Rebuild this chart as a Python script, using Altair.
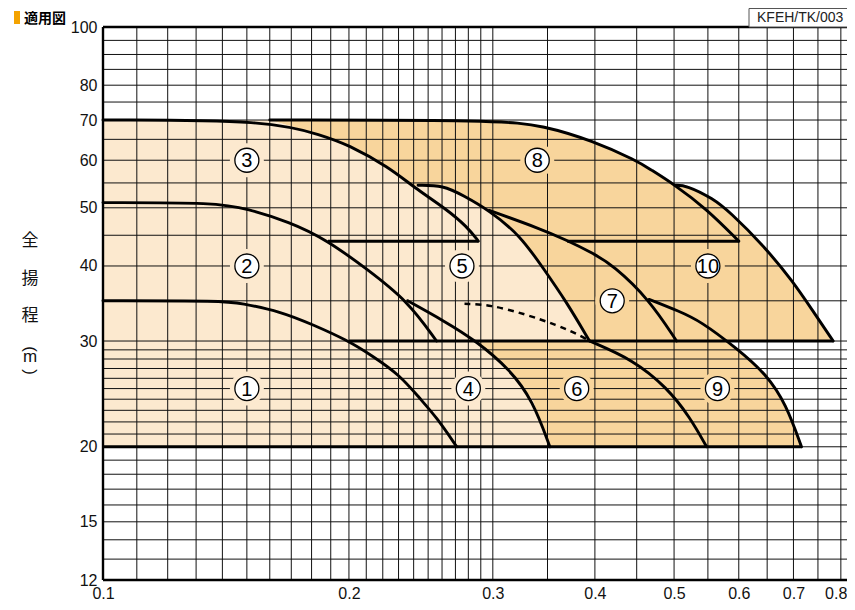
import altair as alt
import pandas as pd

LIGHT = "#FCE9CF"
DARK = "#F8D59C"
ORANGE = "#F4A300"

# ---------------- axes / grid ----------------
Q_MIN, Q_MAX = 0.1, 0.814
H_MIN, H_MAX = 12, 100
x_label_values = [0.1, 0.2, 0.3, 0.4, 0.5, 0.6, 0.7, 0.8]
y_label_values = [12, 15, 20, 30, 40, 50, 60, 70, 80, 100]
x_grid_values = [0.11, 0.12, 0.13, 0.14, 0.15, 0.16, 0.17, 0.18, 0.19, 0.2,
                 0.21, 0.22, 0.23, 0.24, 0.25, 0.26, 0.27, 0.28, 0.29, 0.3,
                 0.35, 0.4, 0.45, 0.5, 0.55, 0.6, 0.65, 0.7, 0.75, 0.8]
y_grid_values = [13, 14, 15, 16, 17, 18, 19, 20, 21, 22, 23, 24, 25, 26, 27, 28, 29, 30,
                 35, 40, 45, 50, 55, 60, 65, 70, 75, 80, 85, 90, 95]
x_border_values = [0.1]
y_border_values = [12, 100]

# ---------------- performance curves (flow m3/min, head m) ----------------
c1_q = [0.1, 0.141, 0.147, 0.165, 0.181, 0.199, 0.214, 0.231, 0.244, 0.256, 0.271]
c1_h = [35, 35, 34.7, 33.6, 31.9, 30.1, 28.3, 26.3, 24.1, 22.4, 20]
c2_q = [0.1, 0.138, 0.150, 0.169, 0.188, 0.210, 0.236, 0.256]
c2_h = [51, 51, 49.8, 47.4, 44.2, 39.6, 35, 30]
c3_q = [0.1, 0.16, 0.186, 0.199, 0.224, 0.240, 0.263, 0.279, 0.288]
c3_h = [70, 70, 65.9, 63.8, 58.4, 54.1, 49.8, 46.5, 44]
c4_q = [0.236, 0.2605, 0.2865, 0.3147, 0.3357, 0.3523]
c4_h = [35, 32.5, 30, 26.9, 23.9, 20]
c5_q = [0.243, 0.261, 0.276, 0.297, 0.324, 0.346, 0.369, 0.394]
c5_h = [54.5, 54.5, 52.4, 49.5, 45, 39.6, 34.9, 30]
c6_dash_q = [0.277, 0.2974, 0.33, 0.359, 0.3833, 0.394]
c6_dash_h = [34.6, 34.5, 33.2, 31.9, 30.7, 30]
c6_q = [0.394, 0.446, 0.49, 0.523, 0.548]
c6_h = [30, 27.9, 25.1, 22.4, 20]
c7_q = [0.297, 0.342, 0.369, 0.398, 0.421, 0.466, 0.5035]
c7_h = [49.5, 46.2, 44.2, 42, 40.1, 35.2, 30]
c8_q = [0.16, 0.305, 0.346, 0.398, 0.45, 0.467, 0.499, 0.548, 0.6]
c8_h = [70, 70, 68.5, 64.6, 59.9, 58, 54.8, 49.8, 44]
c9_q = [0.466, 0.508, 0.538, 0.596, 0.649, 0.686, 0.716]
c9_h = [35.2, 33.6, 32.4, 29.2, 26.4, 23.5, 20]
c9_q_at_30 = 0.582
c10_q = [0.501, 0.518, 0.558, 0.585, 0.643, 0.699, 0.74, 0.783]
c10_h = [54.5, 54.5, 51.8, 49.2, 43.3, 37.7, 33.6, 30]
# horizontal limit lines
h20_q, h20_h = [0.1, 0.716], [20, 20]
h30_q, h30_h = [0.2, 0.783], [30, 30]
h44a_q, h44a_h = [0.1885, 0.288], [44, 44]
h44b_q, h44b_h = [0.37, 0.6], [44, 44]

# ---------------- region labels ----------------
label_text = ["1", "2", "3", "4", "5", "6", "7", "8", "9", "10"]
label_q = [0.15, 0.15, 0.15, 0.28, 0.275, 0.38, 0.42, 0.34, 0.565, 0.55]
label_h = [25, 40, 60, 25, 40, 25, 35, 60, 25, 40]
label_zone = ["light"] * 5 + ["dark"] * 5


def table(name, qs, hs):
    return pd.DataFrame({"seg": name, "i": list(range(len(qs))), "q": qs, "h": hs})


def curve_table(name, qs, hs):
    # end points repeated so that the smoothing spline keeps them
    q = [qs[0], qs[0]] + list(qs) + [qs[-1], qs[-1]]
    h = [hs[0], hs[0]] + list(hs) + [hs[-1], hs[-1]]
    return table(name, q, h)


# regions built from the curves
dark_q = (c8_q[:7] + c10_q + [c9_q_at_30] + c9_q[3:] + c4_q[2:][::-1]
          + c5_q[::-1] + c3_q[1:6][::-1])
dark_h = (c8_h[:7] + c10_h + [30] + c9_h[3:] + c4_h[2:][::-1]
          + c5_h[::-1] + c3_h[1:6][::-1])
light_q = c3_q[:6] + c5_q + c4_q[2:] + [0.1]
light_h = c3_h[:6] + c5_h + c4_h[2:] + [20]
regions = pd.concat([table("dark", dark_q, dark_h), table("light", light_q, light_h)])

solid = pd.concat([
    curve_table("c1", c1_q, c1_h), curve_table("c2", c2_q, c2_h), curve_table("c3", c3_q, c3_h),
    curve_table("c4", c4_q, c4_h), curve_table("c5", c5_q, c5_h), curve_table("c6", c6_q, c6_h),
    curve_table("c7", c7_q, c7_h), curve_table("c8", c8_q, c8_h), curve_table("c9", c9_q, c9_h),
    curve_table("c10", c10_q, c10_h),
])
limits = pd.concat([
    table("h20", h20_q, h20_h), table("h30", h30_q, h30_h),
    table("h44a", h44a_q, h44a_h), table("h44b", h44b_q, h44b_h),
])
dashed = curve_table("c6d", c6_dash_q, c6_dash_h)
labels = pd.DataFrame({"t": label_text, "q": label_q, "h": label_h, "zone": label_zone})

xs = alt.Scale(type="log", domain=[Q_MIN, Q_MAX], nice=False)
ys = alt.Scale(type="log", domain=[H_MIN, H_MAX], nice=False)
x_axis = alt.Axis(
    values=x_label_values, format=".1f", title=None, labelPadding=5,
    labelOverlap=False, labelFlush=False,
    labelAlign={"condition": {"test": "datum.value > 0.75", "value": "right"}, "value": "center"},
    labelOffset={"condition": {"test": "datum.value > 0.75", "value": 6}, "value": 0},
)
y_axis = alt.Axis(values=y_label_values, format="d", title=None, labelPadding=6,
                  labelOverlap=False, labelFlush=False)
X = alt.X("q:Q", scale=xs, axis=x_axis)
Y = alt.Y("h:Q", scale=ys, axis=y_axis)
zone_color = alt.Color("zone:N", scale=alt.Scale(domain=["dark", "light"], range=[DARK, LIGHT]), legend=None)

fills = alt.Chart(regions).mark_line(filled=True, interpolate="linear", strokeWidth=0).encode(
    x=X, y=Y, detail="seg:N", order="i:Q",
    color=alt.Color("seg:N", scale=alt.Scale(domain=["dark", "light"], range=[DARK, LIGHT]), legend=None),
)

vgrid = alt.Chart(pd.DataFrame({"q": x_grid_values})).mark_rule(color="#111", strokeWidth=1).encode(x=X)
hgrid = alt.Chart(pd.DataFrame({"h": y_grid_values})).mark_rule(color="#111", strokeWidth=1).encode(y=Y)
vborder = alt.Chart(pd.DataFrame({"q": x_border_values})).mark_rule(color="black", strokeWidth=2.4).encode(x=X)
hborder = alt.Chart(pd.DataFrame({"h": y_border_values})).mark_rule(color="black", strokeWidth=2.4).encode(y=Y)

halo = alt.Chart(labels).mark_circle(size=1150, opacity=1).encode(x=X, y=Y, color=zone_color)

curve_lines = alt.Chart(solid).mark_line(color="black", strokeWidth=2.9, interpolate="basis",
                                         strokeJoin="round", strokeCap="round").encode(
    x=X, y=Y, detail="seg:N", order="i:Q")
limit_lines = alt.Chart(limits).mark_line(color="black", strokeWidth=3, strokeCap="butt").encode(
    x=X, y=Y, detail="seg:N", order="i:Q")
dash_line = alt.Chart(dashed).mark_line(color="black", strokeWidth=2.5, strokeDash=[6, 5],
                                        interpolate="basis").encode(x=X, y=Y, order="i:Q")

discs = alt.Chart(labels).mark_point(shape="circle", filled=True, fill="white", stroke="black",
                                     strokeWidth=1.3, size=576, opacity=1).encode(x=X, y=Y)
digits = alt.Chart(labels).mark_text(fontSize=20, font="Liberation Sans Narrow, Liberation Sans, Arial",
                                     color="black", baseline="middle", align="center", dy=1).encode(
    x=X, y=Y, text="t:N")

# ---------------- annotations ----------------
ann = pd.DataFrame({"t": ["KFEH/TK/003"]})
code_box = alt.Chart(ann).mark_rect(fill="white", stroke="#555", strokeWidth=1).encode(
    x=alt.value(646), x2=alt.value(770), y=alt.value(-18.5), y2=alt.value(0))
code_text = alt.Chart(ann).mark_text(align="left", baseline="alphabetic", fontSize=14,
                                     font="Liberation Sans", color="#222").encode(
    x=alt.value(654), y=alt.value(-5), text="t:N")

title_df = pd.DataFrame({"t": ["適用図"]})
title_bar = alt.Chart(title_df).mark_rect(fill=ORANGE).encode(
    x=alt.value(-89), x2=alt.value(-83), y=alt.value(-16), y2=alt.value(-3))
title = alt.Chart(title_df).mark_text(align="left", baseline="alphabetic", fontSize=14, fontWeight="bold",
                                      font="Noto Sans CJK JP", color="black").encode(
    x=alt.value(-79), y=alt.value(-4), text="t:N")

ytitle_chars = ["全", "揚", "程"]
ytitle_layers = []
for ch, yy in zip(ytitle_chars, [214, 252, 289]):
    ytitle_layers.append(
        alt.Chart(pd.DataFrame({"t": [ch]})).mark_text(fontSize=17, font="Noto Sans CJK JP", color="#111",
                                                      align="center", baseline="middle").encode(
            x=alt.value(-73), y=alt.value(yy), text="t:N"))
unit_parts = [("(", 90, 322), ("m", 0, 330), (")", 90, 345)]
for ch, ang, yy in unit_parts:
    ytitle_layers.append(
        alt.Chart(pd.DataFrame({"t": [ch]})).mark_text(fontSize=17, font="Liberation Sans", color="#111",
                                                      align="center", baseline="middle", angle=ang).encode(
            x=alt.value(-73), y=alt.value(yy), text="t:N"))

chart = alt.layer(
    fills, vgrid, hgrid, halo, curve_lines, limit_lines, dash_line, vborder, hborder,
    discs, digits, code_box, code_text, title_bar, title, *ytitle_layers,
).properties(
    width=744, height=553,
    padding={"left": 95, "top": 19, "right": 0, "bottom": 22},
    autosize=alt.AutoSizeParams(type="none"),
).configure_view(strokeWidth=0).configure_axis(
    domain=False, ticks=False, grid=False, labelFont="Liberation Sans", labelFontSize=16,
    labelColor="#111",
)

chart.save("out.html", embed_options={"renderer": "svg", "actions": False})
